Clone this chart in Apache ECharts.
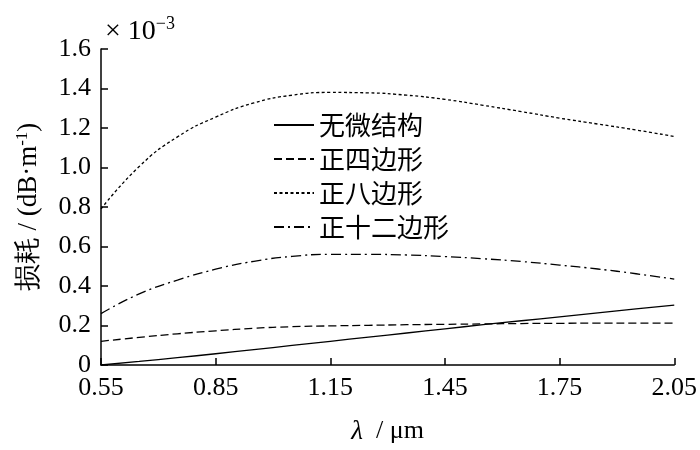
<!DOCTYPE html>
<html>
<head>
<meta charset="utf-8">
<script src="https://cdn.jsdelivr.net/npm/echarts@6/dist/echarts.min.js"></script>
<style>
  html, body { margin: 0; padding: 0; background: #fff; }
  #chart { width: 700px; height: 450px; }
</style>
</head>
<body>
<div id="chart"></div>
<script>
// 波长 (μm)
const wavelengths = [0.55, 0.65, 0.75, 0.85, 0.95, 1.05, 1.15, 1.25, 1.35, 1.45, 1.55, 1.65, 1.75, 1.85, 1.95, 2.05];

// 损耗 (×10^-3 dB/m)
const noStructure = [0, 0.018, 0.037, 0.057, 0.078, 0.099, 0.12, 0.141, 0.162, 0.183, 0.204, 0.224, 0.244, 0.264, 0.284, 0.303];
const square = [0.12, 0.14, 0.158, 0.173, 0.186, 0.194, 0.198, 0.201, 0.204, 0.206, 0.208, 0.21, 0.211, 0.212, 0.212, 0.212];
const octagon = [0.79, 1.005, 1.155, 1.255, 1.327, 1.366, 1.38, 1.378, 1.366, 1.345, 1.315, 1.283, 1.25, 1.22, 1.19, 1.157];
const dodecagon = [0.26, 0.36, 0.43, 0.485, 0.525, 0.55, 0.56, 0.56, 0.557, 0.549, 0.538, 0.524, 0.506, 0.486, 0.462, 0.435];

const seriesNames = ['无微结构', '正四边形', '正八边形', '正十二边形'];

const SERIF = '"Liberation Serif", "Times New Roman", serif';
const CJK = '"Noto Sans CJK SC", sans-serif';
const BLACK = '#000';

const pairs = (ys) => wavelengths.map((x, i) => [x, ys[i]]);

const chart = echarts.init(document.getElementById('chart'));

const makeSeries = (name, ys, type) => ({
  name: name,
  type: 'line',
  data: pairs(ys),
  smooth: true,
  symbol: 'none',
  itemStyle: { color: BLACK },
  lineStyle: { color: BLACK, width: 1.3, type: type }
});

const option = {
  backgroundColor: '#fff',
  animation: false,
  grid: { left: 101, right: 23, top: 49, bottom: 84 },
  legend: {
    orient: 'vertical',
    left: 268,
    top: 107,
    itemWidth: 40,
    itemHeight: 14,
    itemGap: 8,
    data: seriesNames,
    itemStyle: { opacity: 0 },
    textStyle: { color: BLACK, fontSize: 26, fontFamily: CJK }
  },
  xAxis: {
    type: 'value',
    min: 0.55,
    max: 2.05,
    interval: 0.3,
    name: '{it|λ}  / μm',
    nameLocation: 'middle',
    nameGap: 53,
    nameTextStyle: {
      color: BLACK,
      fontSize: 26,
      fontFamily: SERIF,
      rich: { it: { fontStyle: 'italic', fontSize: 27, fontFamily: SERIF, color: BLACK } }
    },
    axisLine: { lineStyle: { color: BLACK, width: 1.5 } },
    axisTick: { inside: true, length: 7, lineStyle: { color: BLACK, width: 1.5 } },
    axisLabel: {
      color: BLACK,
      fontSize: 26,
      fontFamily: SERIF,
      margin: 10,
      formatter: (v) => v.toFixed(2)
    },
    splitLine: { show: false }
  },
  yAxis: {
    type: 'value',
    min: 0,
    max: 1.6,
    interval: 0.2,
    name: '损耗 / (dB·m{sup|-1})',
    nameLocation: 'middle',
    nameRotate: 90,
    nameGap: 57,
    nameTextStyle: {
      color: BLACK,
      fontSize: 27,
      fontFamily: SERIF,
      rich: { sup: { fontSize: 17, verticalAlign: 'top', padding: [0, 0, 13, 0], color: BLACK, fontFamily: SERIF } }
    },
    axisLine: { lineStyle: { color: BLACK, width: 1.5 } },
    axisTick: { inside: true, length: 7, lineStyle: { color: BLACK, width: 1.5 } },
    axisLabel: {
      color: BLACK,
      fontSize: 26,
      fontFamily: SERIF,
      margin: 10,
      formatter: (v) => (v === 0 ? '0' : v.toFixed(1))
    },
    splitLine: { show: false }
  },
  graphic: [
    {
      type: 'text',
      left: 105,
      top: 15,
      style: {
        text: '× 10{sup|−3}',
        fill: BLACK,
        font: '28px ' + SERIF,
        rich: { sup: { fontSize: 18, verticalAlign: 'top', padding: [0, 0, 15, 0], fill: BLACK, fontFamily: SERIF } }
      }
    }
  ],
  series: [
    makeSeries(seriesNames[0], noStructure, 'solid'),
    makeSeries(seriesNames[1], square, [8, 4]),
    makeSeries(seriesNames[2], octagon, [3, 2.5]),
    makeSeries(seriesNames[3], dodecagon, [10, 4, 2, 4])
  ]
};

chart.setOption(option);
</script>
</body>
</html>
